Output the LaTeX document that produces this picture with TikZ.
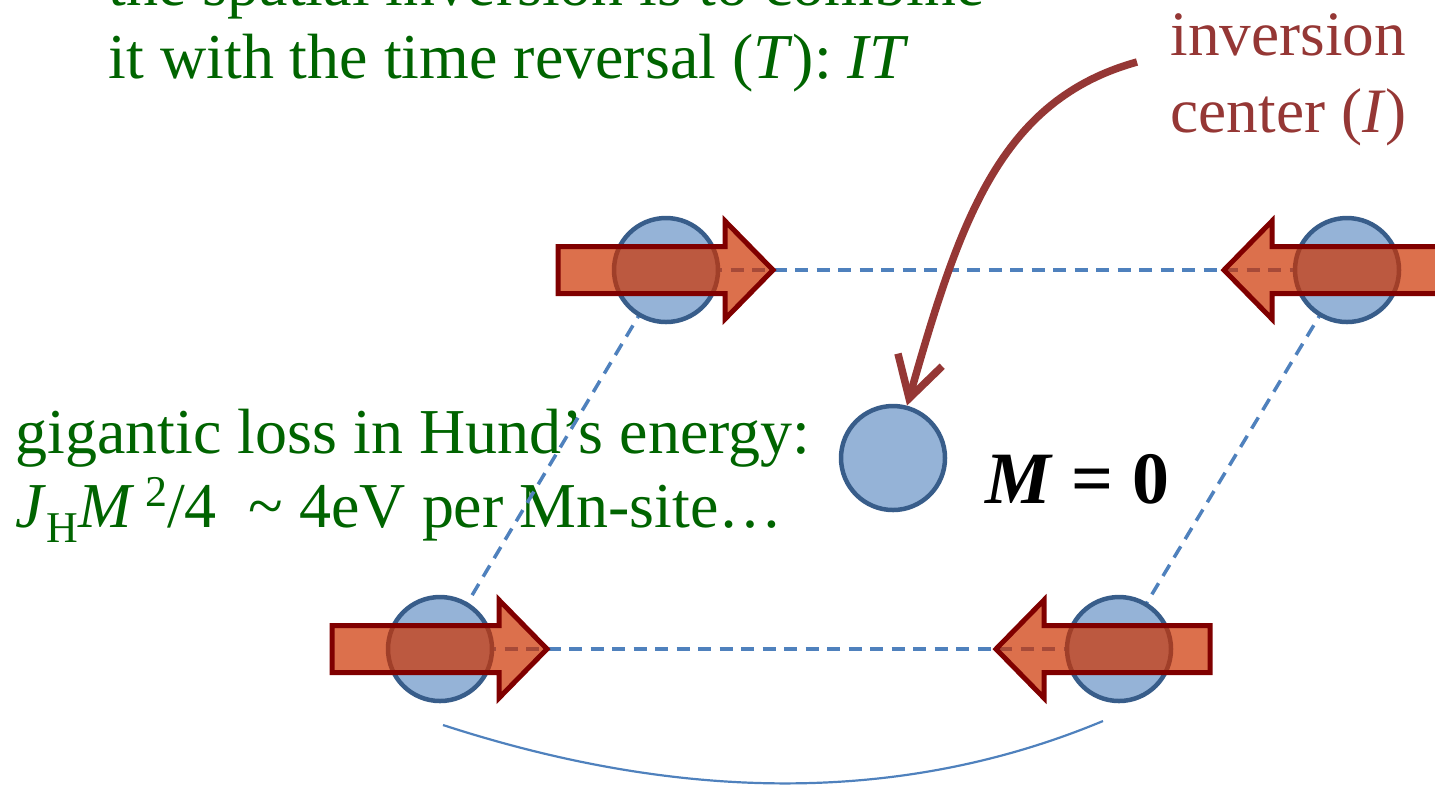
\documentclass[tikz,border=0pt]{standalone}
\usepackage{fontspec}
\setmainfont{Liberation Serif}
\usetikzlibrary{arrows.meta}
\definecolor{sitefill}{HTML}{95B3D7}
\definecolor{sitedraw}{HTML}{385D8A}
\definecolor{bondblue}{HTML}{4F81BD}
\definecolor{spinfill}{RGB}{205,51,0}
\definecolor{spindraw}{HTML}{800000}
\definecolor{txtgreen}{RGB}{0,100,0}
\definecolor{txtred}{HTML}{953735}
\begin{document}
\begin{tikzpicture}[
  site/.style={circle, minimum size=1.04cm, inner sep=0pt, fill=sitefill, draw=sitedraw, line width=0.045cm},
  bond/.style={draw=bondblue, line width=0.035cm, dash pattern=on 0.13cm off 0.085cm},
  spin/.style={fill=spinfill, fill opacity=0.7, draw=spindraw, line width=0.05cm, line join=miter},
  gtext/.style={text=txtgreen, font=\fontsize{18.2}{21}\selectfont, inner sep=0pt, anchor=base west},
  rtext/.style={text=txtred, font=\fontsize{18}{21}\selectfont, inner sep=0pt, anchor=base west},
  mtext/.style={font=\fontsize{21}{25}\selectfont\bfseries, inner sep=0pt, anchor=base west},
  pointer/.style={draw=txtred, line width=0.075cm, -{Straight Barb[length=0.40cm,width=0.46cm]}},
  arcline/.style={draw=bondblue, line width=0.022cm},
  spinright/.pic={\path[spin] (-1.08,0.235) -- (0.59,0.235) -- (0.59,0.49) -- (1.07,0) -- (0.59,-0.49) -- (0.59,-0.235) -- (-1.08,-0.235) -- cycle;},
  spinleft/.pic={\path[spin] (0.91,0.235) -- (-0.75,0.235) -- (-0.75,0.49) -- (-1.23,0) -- (-0.75,-0.49) -- (-0.75,-0.235) -- (0.91,-0.235) -- cycle;}
]
\useasboundingbox (0,0) rectangle (14.35,-7.84);
\clip (0,0) rectangle (14.35,-7.84);

% texts
\node[gtext] (t1) at (1.08,-0.05) {the spatial inversion is to combine};
\node[gtext] (t2) at (1.08,-0.78) {it with the time reversal (\textit{T}): \textit{IT}};
\node[rtext] (r1) at (11.70,-0.55) {inversion};
\node[rtext] (r2) at (11.70,-1.32) {center (\textit{I})};
\node[gtext] (g1) at (0.15,-4.53) {gigantic loss in Hund’s energy:};
\node[gtext] (g2) at (0.15,-5.27) {\textit{J}\raisebox{-0.24em}{\fontsize{12.5}{12}\selectfont H}\textit{M}\,\raisebox{0.32em}{\fontsize{12.5}{12}\selectfont 2}/4\ \ \textasciitilde{} 4eV per Mn-site…};
\node[mtext] (m0) at (9.85,-5.03) {\textit{M} = 0};

% site positions
\coordinate (a) at (6.66,-2.70);
\coordinate (b) at (13.47,-2.70);
\coordinate (c) at (8.93,-4.58);
\coordinate (d) at (4.40,-6.49);
\coordinate (e) at (11.19,-6.49);

% bonds
\draw[bond] (a) -- (b);
\draw[bond] (d) -- (e);
\draw[bond] (a) -- (d);
\draw[bond] (b) -- (e);

% lower arc
\coordinate (arcL) at (4.43,-7.25);
\coordinate (arcR) at (11.03,-7.21);
\draw[arcline] (arcL) .. controls (6.86,-8.04) and (9.06,-8.03) .. (arcR);

% sites
\node[site] (A) at (a) {};
\node[site] (B) at (b) {};
\node[site] (C) at (c) {};
\node[site] (D) at (d) {};
\node[site] (E) at (e) {};

% spins
\pic at (a) {spinright};
\pic at (d) {spinright};
\pic at (b) {spinleft};
\pic at (e) {spinleft};

% pointer to inversion center
\coordinate (ptr) at (11.37,-0.62);
\draw[pointer] (ptr) .. controls (10.0,-1.0) and (9.6,-2.2) .. (C.75);
\end{tikzpicture}
\end{document}
